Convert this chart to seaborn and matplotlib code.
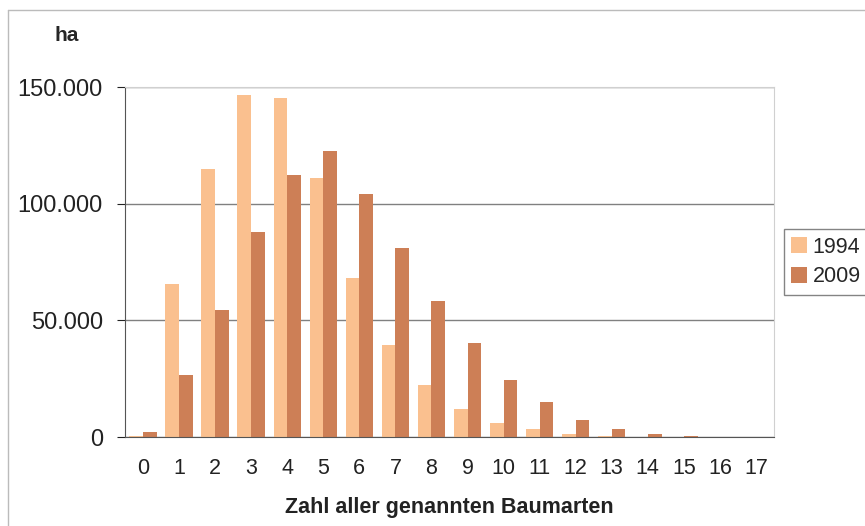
import numpy as np
import pandas as pd
import seaborn as sns
import matplotlib.pyplot as plt
from matplotlib.ticker import FuncFormatter, MultipleLocator
from matplotlib.lines import Line2D

sns.set_style("white")
plt.rcParams['font.family'] = ['Liberation Sans', 'DejaVu Sans']

# Daten: Fläche (ha) nach Zahl aller genannten Baumarten
arten = list(range(18))
ha_1994 = [500, 65500, 115000, 146500, 145500, 111000, 68000, 39500, 22500, 12000,
           6000, 3400, 1300, 300, 100, 0, 0, 0]
ha_2009 = [2000, 26500, 54500, 88000, 112500, 122500, 104000, 81000, 58500, 40500,
           24500, 15000, 7300, 3400, 1300, 400, 0, 0]

df = pd.DataFrame({
    'arten': arten * 2,
    'ha': ha_1994 + ha_2009,
    'jahr': ['1994'] * len(arten) + ['2009'] * len(arten),
})

farben = {'1994': '#FAC08F', '2009': '#CD7F56'}

fig = plt.figure(figsize=(8.65, 5.26), dpi=100)
ax = fig.add_axes([0.1445, 0.1692, 0.7503, 0.6654])

sns.barplot(data=df, x='arten', y='ha', hue='jahr', palette=farben,
            width=0.76, saturation=1, linewidth=0, ax=ax, legend=True)

# Achsen
ax.set_ylim(0, 150000)
ax.set_xlim(-0.5, 17.5)
ax.yaxis.set_major_locator(MultipleLocator(50000))
ax.yaxis.set_major_formatter(FuncFormatter(lambda v, p: f"{int(v):,}".replace(",", ".")))
ax.grid(axis='y', color='#808080', linewidth=1)
ax.set_axisbelow(True)

# Striche an den Kategoriegrenzen
ax.set_xticks(np.arange(-0.5, 18, 1), minor=True)
ax.tick_params(axis='x', which='major', length=0, labelsize=15.5, pad=15, colors='#222222')
ax.tick_params(axis='x', which='minor', length=6, direction='out', color='#555555')
ax.tick_params(axis='y', length=6, direction='out', color='#555555', labelsize=17,
               left=True, pad=10)
ax.tick_params(axis='y', colors='#222222')

for s in ['top', 'right']:
    ax.spines[s].set_color('#d0d0d0')
for s in ['left', 'bottom']:
    ax.spines[s].set_color('#555555')

ax.set_xlabel('Zahl aller genannten Baumarten', fontsize=15.5, fontweight='bold',
              color='#222222')
ax.xaxis.set_label_coords(0.5, -0.17)
ax.set_ylabel('')
fig.text(0.077, 0.932, 'ha', fontsize=15, fontweight='bold', ha='center', va='center')

# Legende
leg = ax.legend(title=None, loc='center left', bbox_to_anchor=(1.0, 0.5),
                fontsize=15.5, frameon=True, fancybox=False, edgecolor='#666666',
                handlelength=0.75, handleheight=0.75, handletextpad=0.25,
                borderpad=0.35, labelspacing=0.4, borderaxespad=0.45)

# Rahmen des Diagramms
fig.add_artist(Line2D([0.009, 1.0], [0.981, 0.981], transform=fig.transFigure,
                      color='#bbbbbb', linewidth=1))
fig.add_artist(Line2D([0.009, 0.009], [0.0, 0.981], transform=fig.transFigure,
                      color='#bbbbbb', linewidth=1))

fig.savefig('out.png', dpi=100)
